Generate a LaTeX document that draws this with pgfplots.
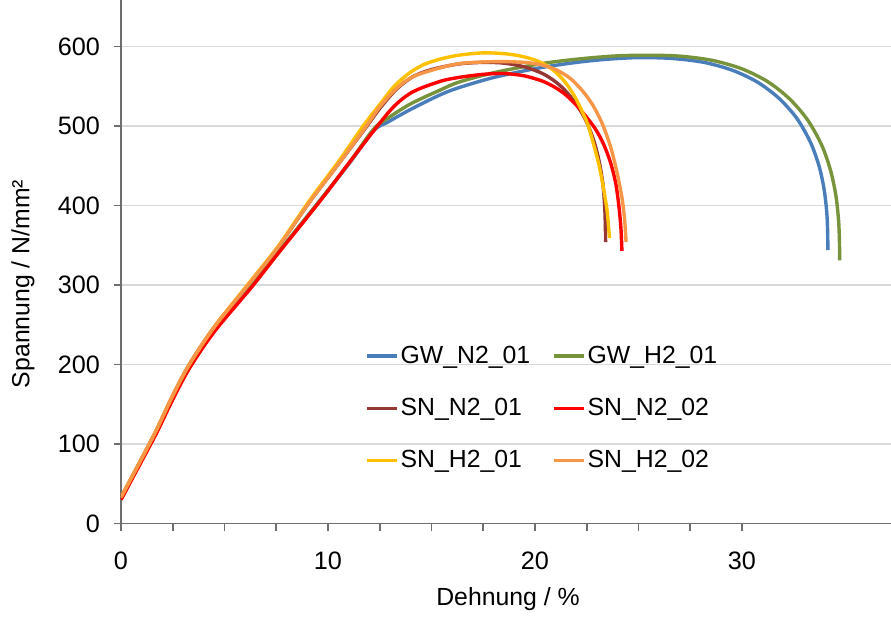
\documentclass[border=0pt]{standalone}
\usepackage{fontspec}
\setmainfont{Liberation Sans}
\usepackage{pgfplots}
\pgfplotsset{compat=1.18}

\definecolor{cblue}{HTML}{4A7EBB}
\definecolor{cgreen}{HTML}{77933C}
\definecolor{cbrown}{HTML}{953735}
\definecolor{cred}{HTML}{FF0000}
\definecolor{cyellow}{HTML}{FFC000}
\definecolor{corange}{HTML}{F79646}
\definecolor{gridgray}{HTML}{D9D9D9}
\definecolor{axisgray}{HTML}{6E6E6E}

\begin{document}
\begin{tikzpicture}
\begin{axis}[
  name=main,
  scale only axis, width=385pt, height=261.75pt,
  xmin=0, xmax=37.2, ymin=0, ymax=658.5,
  axis x line*=bottom, axis y line*=left,
  axis line style={draw=axisgray, line width=0.8pt, -},
  xtick={0,10,20,30}, minor x tick num=3,
  ytick={0,100,...,600},
  tick align=outside, major tick length=3.5pt, minor tick length=3.5pt,
  tick style={draw=axisgray, line width=0.8pt},
  ymajorgrids, grid style={draw=gridgray, line width=0.8pt},
  font=\fontsize{12.4}{14}\selectfont,
  /pgf/number format/assume math mode=true,
  tick label style={font=\fontsize{12.6}{14}\selectfont},
  xticklabel style={yshift=-7pt},
  yticklabel style={xshift=-3.5pt},
  xlabel={Dehnung / \%}, ylabel={Spannung / N/mm²},
  every axis x label/.style={at={(rel axis cs:0.5026,0)}, yshift=-40.75pt, anchor=base,
    font=\fontsize{12.4}{14}\selectfont},
  every axis y label/.style={at={(rel axis cs:-0.1273,0.4575)}, rotate=90, anchor=center,
    font=\fontsize{12.4}{14}\selectfont},
  legend columns=2,
  legend style={at={(axis cs:20.35,145)}, anchor=center, draw=none, fill=none,
    font=\fontsize{12.4}{14}\selectfont, row sep=14pt, column sep=0pt,
    nodes={inner sep=1pt},
    /tikz/every even column/.append style={column sep=10pt}},
  legend cell align=left,
  legend image code/.code={\draw[#1] (0pt,0pt) -- (15pt,0pt);},
  every axis plot/.append style={line width=1.7pt, smooth},
]
\addplot[cblue] coordinates {(0,30) (0.8,70) (1.7,114) (2.5,157) (3.3,196) (4.5,242) (6.3,298) (7.6,341) (9.6,406) (11,452) (12.2,494) (12.9,505) (14,521) (15.4,539) (16.3,548) (18,561) (20.2,573) (22,580) (23.5,584) (25,586) (26.6,585) (28.17,580) (29.55,570) (30.76,555) (31.78,535) (32.64,510) (33.3,480) (33.72,450) (33.97,420) (34.1,390) (34.14,365) (34.15,344)};
\addlegendentry{GW\_N2\_01}
\addplot[cgreen] coordinates {(0,30) (0.8,70) (1.7,114) (2.5,157) (3.3,196) (4.5,242) (6.3,298) (7.6,341) (9.6,406) (11,453) (12.2,496) (12.9,510) (14,528) (15.4,545) (16.3,555) (18,567) (20.2,578) (22,584) (23.8,588) (25.3,589) (26.94,588) (28.56,582.6) (29.99,572) (31.23,556) (32.28,534.6) (33.16,508) (33.85,476) (34.28,444) (34.54,412) (34.67,380) (34.71,353) (34.72,331)};
\addlegendentry{GW\_H2\_01}
\addplot[cbrown] coordinates {(0,33) (0.8,72) (1.7,117) (2.5,161) (3.3,200) (4.5,247) (6.2,302) (7.6,348) (9.1,404) (10.5,452) (11.8,497) (12.5,522) (13.3,546) (14.1,562) (15,571) (16.3,578) (17.5,580) (18.53,579) (19.54,574) (20.44,565) (21.21,551) (21.87,532) (22.42,509) (22.85,481) (23.12,453) (23.29,425) (23.37,397) (23.4,374) (23.41,354)};
\addlegendentry{SN\_N2\_01}
\addplot[cred] coordinates {(0,30) (0.8,69) (1.7,113) (2.5,156) (3.3,195) (4.5,241) (6.3,297) (7.6,340) (9.6,405) (11,453) (12.3,497) (13.2,525) (14.1,543) (15.4,556) (16.3,561) (17.5,565) (18.5,566) (19.5,563) (20.5,555) (21.3,543) (21.9,529) (22.4,514) (22.9,497) (23.3,478) (23.65,454) (23.9,428) (24.05,400) (24.15,372) (24.2,343)};
\addlegendentry{SN\_N2\_02}
\addplot[cyellow] coordinates {(0,33) (0.8,72) (1.7,117) (2.5,161) (3.3,200) (4.5,247) (6.2,303) (7.6,349) (9.1,406) (10.5,455) (11.7,500) (12.5,527) (13.2,550) (13.9,566) (14.6,577) (15.4,584) (16.3,589) (17.5,592) (18.5,591) (19.3,588) (20.1,582) (20.8,572) (21.4,557) (21.9,538) (22.3,517) (22.6,498) (23.1,450) (23.45,400) (23.55,375) (23.6,359)};
\addlegendentry{SN\_H2\_01}
\addplot[corange] coordinates {(0,33) (0.8,72) (1.7,117) (2.5,161) (3.3,200) (4.5,247) (6.2,302) (7.6,348) (9.1,404) (10.5,452) (11.8,498) (12.5,524) (13.3,547) (14.1,562) (15.4,573) (16.5,579) (18.2,581) (19.5,580) (20.3,577) (21.0,571) (21.7,560) (22.3,544) (22.8,526) (23.25,503) (23.65,474) (23.95,443) (24.2,410) (24.33,382) (24.4,354)};
\addlegendentry{SN\_H2\_02}
\end{axis}
\pgfresetboundingbox
\path (main.south west) ++(-60.5pt,-48.75pt) rectangle (main.north east);
\end{tikzpicture}
\end{document}
